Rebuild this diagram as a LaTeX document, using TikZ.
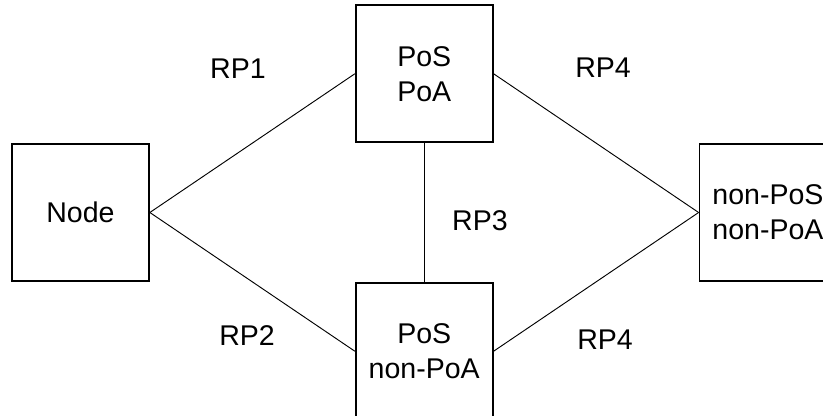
\documentclass[tikz,border=0pt]{standalone}
\usepackage{fontspec}
\setmainfont{Liberation Sans}
\usepackage{tikz}
\usetikzlibrary{shapes,arrows,positioning}

\begin{document}
\begin{tikzpicture}[node distance=153.75pt, auto]
    \tikzstyle{box} = [rectangle, draw=black, line width=1.3pt, minimum width=102.75pt, minimum height=102.75pt, align=center, font=\fontsize{21.4}{26.25}\selectfont]
    \tikzstyle{link} = [line width=0.7pt]
    \tikzstyle{rp} = [font=\fontsize{21.4}{26.25}\selectfont]

    % Page frame (boxes on the right and bottom are cut off)
    \clip (-60.375pt,-152.625pt) rectangle (556.875pt,159.375pt);

    % Boxes
    \node [box] (node) {Node};
    \node [box, above right=0pt and 153.75pt of node] (pospoa) {PoS\\PoA};
    \node [box, below right=0pt and 153.75pt of node] (posnonpoa) {PoS\\non-PoA};
    \node [box, below right=0pt and 153.75pt of pospoa] (nonposnonpoa) {non-PoS\\non-PoA};

    % Connections
    \draw [link] (node.east) -- (pospoa.west);
    \draw [link] (node.east) -- (posnonpoa.west);
    \draw [link] (pospoa.south) -- (posnonpoa.north);
    \draw [link] (pospoa.east) -- (nonposnonpoa.west);
    \draw [link] (posnonpoa.east) -- (nonposnonpoa.west);

    % Reference point labels
    \node [rp] (rp1) at (118.1pt,107.6pt) {RP1};
    \node [rp] (rp2) at (124.9pt,-92.6pt) {RP2};
    \node [rp] (rp3) at (299.6pt,-6.4pt) {RP3};
    \node [rp] (rp4a) at (391.9pt,108.4pt) {RP4};
    \node [rp] (rp4b) at (393.4pt,-95.6pt) {RP4};
\end{tikzpicture}
\end{document}
